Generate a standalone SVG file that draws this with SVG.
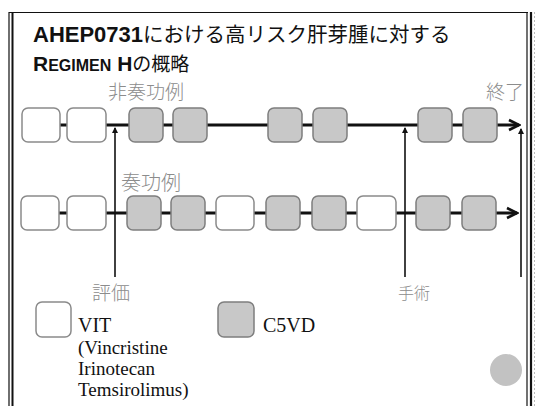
<svg xmlns="http://www.w3.org/2000/svg" width="537" height="406" viewBox="0 0 537 406">
<style>
.w{fill:#fff;stroke:#8a8a8a;stroke-width:1.5}
.g{fill:#c8c8c8;stroke:#7e7e7e;stroke-width:1.5}
.ln{stroke:#111;stroke-width:2.8;fill:none}
.vl{stroke:#111;stroke-width:1.6;fill:none}
.jp{font-family:"Noto Sans CJK JP",sans-serif;fill:#8c8c8c;font-weight:300}
.lg{font-family:"Liberation Serif",serif;fill:#111}
.fr{stroke:#111;fill:none}
</style>
<defs>
<marker id="chev" markerWidth="14" markerHeight="14" refX="12" refY="7" orient="auto" markerUnits="userSpaceOnUse">
<path d="M2,2 L12,7 L2,12" fill="none" stroke="#111" stroke-width="2.6"/>
</marker>
<marker id="tri" markerWidth="8" markerHeight="8" refX="4" refY="1" orient="0" markerUnits="userSpaceOnUse">
<path d="M1,6 L4,0 L7,6 Z" fill="#111"/>
</marker>
</defs>
<rect width="537" height="406" fill="#fff"/>
<g id="frame">
<path class="fr" stroke-width="1.2" d="M9,406 V12.5 H528"/>
<path class="fr" stroke-width="2" d="M12.5,406 V13"/>
<path class="fr" stroke-width="1.2" d="M527,12 V406"/>
<path class="fr" stroke-width="2.2" d="M531,12 V406"/>
<path d="M534.5,12 V406" stroke="#bbb" stroke-width="1" stroke-dasharray="2,2"/>
</g>
<g id="title" font-size="20.5" fill="#111">
<text x="33" y="42"><tspan font-family="Liberation Sans,Arial,sans-serif" font-weight="bold" font-size="22">AHEP0731</tspan><tspan font-family="Noto Sans CJK JP,sans-serif">における高リスク肝芽腫に対する</tspan></text>
<text x="33" y="71" font-size="19"><tspan font-family="Liberation Sans,Arial,sans-serif" font-weight="bold" font-size="21">R</tspan><tspan font-family="Liberation Sans,Arial,sans-serif" font-weight="bold" font-size="16">EGIMEN</tspan><tspan font-family="Liberation Sans,Arial,sans-serif" font-weight="bold" font-size="21"> H</tspan><tspan font-family="Noto Sans CJK JP,sans-serif">の概略</tspan></text>
</g>
<g id="connectors">
<path class="ln" d="M60,125 H519" marker-end="url(#chev)"/>
<path class="ln" d="M59,213 H517" marker-end="url(#chev)"/>
<path class="vl" d="M115,277 V128" marker-end="url(#tri)"/>
<path class="vl" d="M405,277 V128" marker-end="url(#tri)"/>
<path class="vl" d="M521,277 V129" marker-end="url(#tri)"/>
</g>
<g id="row1">
<rect class="w" x="22" y="108" width="38" height="34" rx="6"/>
<rect class="w" x="67" y="108" width="39" height="34" rx="6"/>
<rect class="g" x="129" y="108" width="34" height="34" rx="6"/>
<rect class="g" x="173" y="108" width="34" height="34" rx="6"/>
<rect class="g" x="268" y="108" width="34" height="34" rx="6"/>
<rect class="g" x="313" y="108" width="34" height="34" rx="6"/>
<rect class="g" x="418" y="108" width="34" height="34" rx="6"/>
<rect class="g" x="463" y="108" width="34" height="34" rx="6"/>
</g>
<g id="row2">
<rect class="w" x="21" y="196" width="38" height="34" rx="6"/>
<rect class="w" x="67" y="196" width="39" height="34" rx="6"/>
<rect class="g" x="127" y="196" width="34" height="34" rx="6"/>
<rect class="g" x="171" y="196" width="34" height="34" rx="6"/>
<rect class="w" x="216" y="196" width="38" height="34" rx="6"/>
<rect class="g" x="266" y="196" width="34" height="34" rx="6"/>
<rect class="g" x="312" y="196" width="34" height="34" rx="6"/>
<rect class="w" x="357" y="196" width="39" height="34" rx="6"/>
<rect class="g" x="416" y="196" width="34" height="34" rx="6"/>
<rect class="g" x="462" y="196" width="34" height="34" rx="6"/>
</g>
<g id="labels">
<text class="jp" x="108" y="99" font-size="19">非奏功例</text>
<text class="jp" x="486" y="99" font-size="19">終了</text>
<text class="jp" x="121" y="190" font-size="20">奏功例</text>
<text class="jp" x="92" y="300" font-size="19">評価</text>
<text class="jp" x="398" y="299" font-size="16">手術</text>
</g>
<g id="legend">
<rect class="w" x="36" y="302" width="35" height="35" rx="6"/>
<text class="lg" x="78" y="332" font-size="20">VIT</text>
<text class="lg" x="78" y="354" font-size="19">(Vincristine</text>
<text class="lg" x="78" y="375" font-size="19">Irinotecan</text>
<text class="lg" x="78" y="396" font-size="19">Temsirolimus)</text>
<rect class="g" x="218" y="302" width="36" height="35" rx="6"/>
<text class="lg" x="263" y="332" font-size="20">C5VD</text>
</g>
<circle id="dot" cx="506" cy="370" r="16" fill="#c2c2c2"/>
</svg>
